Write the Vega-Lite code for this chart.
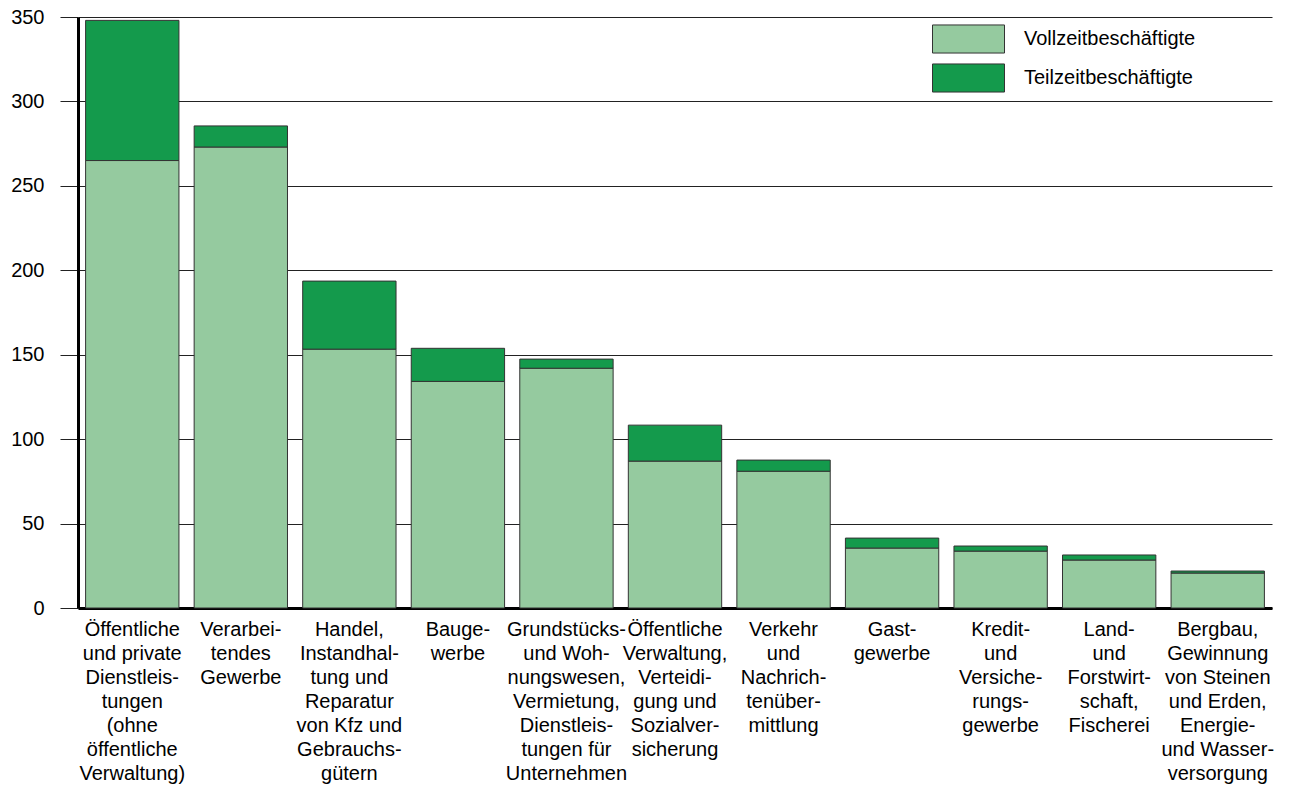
{
  "$schema": "https://vega.github.io/schema/vega-lite/v6.json",
  "autosize": {"type": "none"},
  "padding": {"left": 78, "top": 17, "right": 20, "bottom": 181},
  "width": 1194,
  "height": 591,
  "config": {
    "font": "Liberation Sans",
    "view": {"stroke": null}
  },
  "data": {
    "values": [
      {"branche": "Öffentliche|und private|Dienstleis-|tungen|(ohne|öffentliche|Verwaltung)", "typ": "Vollzeitbeschäftigte", "wert": 265},
      {"branche": "Öffentliche|und private|Dienstleis-|tungen|(ohne|öffentliche|Verwaltung)", "typ": "Teilzeitbeschäftigte", "wert": 83},
      {"branche": "Verarbei-|tendes|Gewerbe", "typ": "Vollzeitbeschäftigte", "wert": 273},
      {"branche": "Verarbei-|tendes|Gewerbe", "typ": "Teilzeitbeschäftigte", "wert": 12.5},
      {"branche": "Handel,|Instandhal-|tung und|Reparatur|von Kfz und|Gebrauchs-|gütern", "typ": "Vollzeitbeschäftigte", "wert": 153.3},
      {"branche": "Handel,|Instandhal-|tung und|Reparatur|von Kfz und|Gebrauchs-|gütern", "typ": "Teilzeitbeschäftigte", "wert": 40.3},
      {"branche": "Bauge-|werbe", "typ": "Vollzeitbeschäftigte", "wert": 134.2},
      {"branche": "Bauge-|werbe", "typ": "Teilzeitbeschäftigte", "wert": 19.6},
      {"branche": "Grundstücks-|und Woh-|nungswesen,|Vermietung,|Dienstleis-|tungen für|Unternehmen", "typ": "Vollzeitbeschäftigte", "wert": 142},
      {"branche": "Grundstücks-|und Woh-|nungswesen,|Vermietung,|Dienstleis-|tungen für|Unternehmen", "typ": "Teilzeitbeschäftigte", "wert": 5.4},
      {"branche": "Öffentliche|Verwaltung,|Verteidi-|gung und|Sozialver-|sicherung", "typ": "Vollzeitbeschäftigte", "wert": 87},
      {"branche": "Öffentliche|Verwaltung,|Verteidi-|gung und|Sozialver-|sicherung", "typ": "Teilzeitbeschäftigte", "wert": 21.3},
      {"branche": "Verkehr|und|Nachrich-|tenüber-|mittlung", "typ": "Vollzeitbeschäftigte", "wert": 81},
      {"branche": "Verkehr|und|Nachrich-|tenüber-|mittlung", "typ": "Teilzeitbeschäftigte", "wert": 6.6},
      {"branche": "Gast-|gewerbe", "typ": "Vollzeitbeschäftigte", "wert": 35.5},
      {"branche": "Gast-|gewerbe", "typ": "Teilzeitbeschäftigte", "wert": 5.9},
      {"branche": "Kredit-|und|Versiche-|rungs-|gewerbe", "typ": "Vollzeitbeschäftigte", "wert": 33.7},
      {"branche": "Kredit-|und|Versiche-|rungs-|gewerbe", "typ": "Teilzeitbeschäftigte", "wert": 3},
      {"branche": "Land-|und|Forstwirt-|schaft,|Fischerei", "typ": "Vollzeitbeschäftigte", "wert": 28.4},
      {"branche": "Land-|und|Forstwirt-|schaft,|Fischerei", "typ": "Teilzeitbeschäftigte", "wert": 3},
      {"branche": "Bergbau,|Gewinnung|von Steinen|und Erden,|Energie-|und Wasser-|versorgung", "typ": "Vollzeitbeschäftigte", "wert": 20.7},
      {"branche": "Bergbau,|Gewinnung|von Steinen|und Erden,|Energie-|und Wasser-|versorgung", "typ": "Teilzeitbeschäftigte", "wert": 1.2}
    ]
  },
  "mark": {"type": "bar", "stroke": "#333333", "strokeWidth": 1},
  "encoding": {
    "x": {
      "field": "branche",
      "type": "nominal",
      "sort": null,
      "scale": {"paddingInner": 0.14, "paddingOuter": 0.07},
      "axis": {
        "title": null,
        "labelAngle": 0,
        "labelLimit": 0,
        "labelExpr": "split(datum.label, '|')",
        "labelFontSize": 20,
        "labelLineHeight": 24,
        "labelBaseline": "top",
        "labelPadding": 11,
        "labelColor": "#000000",
        "ticks": false,
        "domainColor": "#000000",
        "domainWidth": 3
      }
    },
    "y": {
      "field": "wert",
      "type": "quantitative",
      "stack": "zero",
      "scale": {"domain": [0, 350], "nice": false},
      "axis": {
        "title": null,
        "values": [0, 50, 100, 150, 200, 250, 300, 350],
        "labelFontSize": 20,
        "labelColor": "#000000",
        "labelPadding": 16,
        "tickSize": 18,
        "tickColor": "#222222",
        "tickWidth": 1,
        "grid": true,
        "gridColor": "#222222",
        "gridWidth": 1,
        "domainColor": "#000000",
        "domainWidth": 3
      }
    },
    "color": {
      "field": "typ",
      "type": "nominal",
      "scale": {"domain": ["Vollzeitbeschäftigte", "Teilzeitbeschäftigte"], "range": ["#95CA9F", "#149A4C"]},
      "legend": {
        "title": null,
        "orient": "none",
        "legendX": 854,
        "legendY": 7,
        "symbolType": "M-1,-0.39H1V0.39H-1Z",
        "symbolSize": 5184,
        "symbolStrokeColor": "#333333",
        "symbolStrokeWidth": 1,
        "symbolOpacity": 1,
        "clipHeight": 30,
        "labelFontSize": 20,
        "labelLimit": 400,
        "labelColor": "#000000",
        "labelOffset": 19,
        "rowPadding": 9
      }
    },
    "order": {"field": "typ", "sort": "descending"}
  }
}
